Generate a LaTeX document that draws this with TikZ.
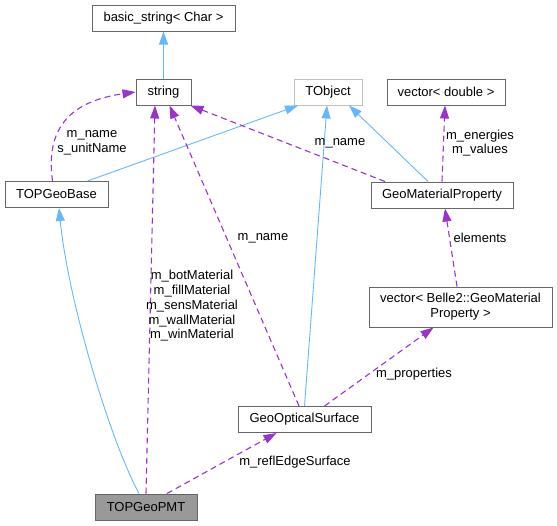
\documentclass[tikz,border=0pt]{standalone}
\usepackage{fontspec}
\setmainfont{Liberation Sans}
\usetikzlibrary{arrows.meta}
\definecolor{inhblue}{HTML}{63B8FF}
\definecolor{usepurple}{HTML}{9A32CD}
\definecolor{boxgray}{HTML}{666666}
\definecolor{extgray}{HTML}{BFBFBF}

\begin{document}
\begin{tikzpicture}[x=1pt, y=-1pt, font=\fontsize{13}{14.75}\selectfont,
        cls/.style={shape=rectangle, draw=boxgray, fill=white, line width=1pt, minimum height=26pt, inner sep=4pt, align=center},
        inh/.style={draw=inhblue, line width=0.9pt, -{Triangle[length=13pt, width=9pt, fill=inhblue]}},
        usage/.style={draw=usepurple, line width=1.1pt, dash pattern=on 6pt off 4pt, -{Triangle[length=13pt, width=9pt, fill=usepurple]}},
        lbl/.style={align=center, inner sep=0pt}]
        \useasboundingbox (0, 0) rectangle (557, 525);
        % Classes:
        \node[cls, minimum width=143pt] (basic) at (163.5, 18){basic\_string< Char >};
        \node[cls, minimum width=55pt] (string) at (163.5, 92){string};
        \node[cls, draw=extgray, minimum width=68pt] (tobject) at (328, 92){TObject};
        \node[cls, minimum width=118pt] (vecdouble) at (446, 92){vector< double >};
        \node[cls, minimum width=103pt] (geobase) at (56.5, 194.5){TOPGeoBase};
        \node[cls, minimum width=142pt] (gmp) at (442, 195){GeoMaterialProperty};
        \node[cls, minimum width=183pt, minimum height=40pt, inner sep=2pt] (vecbelle) at (460.5, 307){vector< Belle2::GeoMaterial\\Property >};
        \node[cls, minimum width=133pt] (optical) at (304.5, 419.5){GeoOpticalSurface};
        \node[cls, fill=black!40, minimum width=102pt] (pmt) at (146, 507){TOPGeoPMT};
        % Inheritance:
        \draw[inh] (string.north) -- (basic.south);
        \draw[inh] ([xshift=31pt]geobase.north) -- ([xshift=-30pt]tobject.south);
        \draw[inh] ([xshift=-14pt]gmp.north) -- ([xshift=21pt]tobject.south);
        \draw[inh] (optical.north) -- ([xshift=-1pt]tobject.south);
        \draw[inh] ([xshift=-7pt]pmt.north) .. controls (110, 440) and (68, 300) .. ([xshift=2.5pt]geobase.south);
        % Members:
        \draw[usage] ([xshift=-4pt]geobase.north) .. controls (44, 120) and (80, 100) .. (string.west);
        \draw[usage] (pmt.north) -- ([xshift=-8.5pt]string.south);
        \draw[usage] ([xshift=-5.5pt]optical.north) -- ([xshift=6pt]string.south);
        \draw[usage] ([xshift=-57pt]gmp.north) -- ([xshift=27pt]string.south);
        \draw[usage] (gmp.north) -- ([xshift=-1pt]vecdouble.south);
        \draw[usage] ([xshift=-3.5pt]vecbelle.north) -- ([xshift=3pt]gmp.south);
        \draw[usage] ([xshift=20pt]optical.north) -- ([xshift=-27pt]vecbelle.south);
        \draw[usage] ([xshift=21pt]pmt.north) -- ([xshift=-28pt]optical.south);
        % Labels:
        \node[lbl] (lblbase) at (92, 143){m\_name\\s\_unitName};
        \node[lbl] (lblmat) at (192, 306){m\_botMaterial\\m\_fillMaterial\\m\_sensMaterial\\m\_wallMaterial\\m\_winMaterial};
        \node[lbl] (lblopt) at (263, 238){m\_name};
        \node[lbl] (lblgmp) at (340, 143){m\_name};
        \node[lbl] (lblvd) at (480, 143){m\_energies\\m\_values};
        \node[lbl] (lblel) at (480, 238){elements};
        \node[lbl] (lblprop) at (414, 374){m\_properties};
        \node[lbl] (lblrefl) at (295, 462){m\_reflEdgeSurface};
    \end{tikzpicture}
\end{document}
